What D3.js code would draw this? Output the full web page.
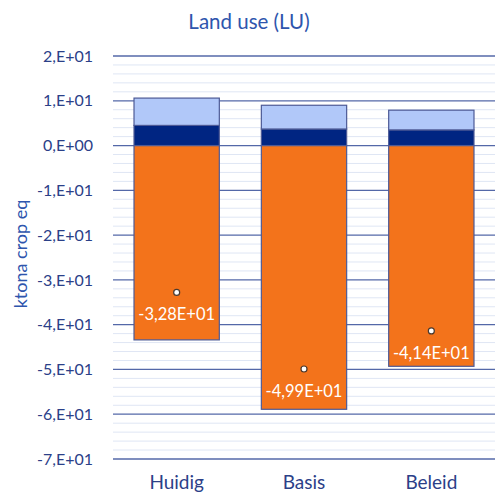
<!DOCTYPE html>
<html>
  <head>
    <meta charset="utf-8">
    <title>Land use (LU)</title>
    <script src="https://d3js.org/d3.v7.min.js"></script>
    <style>
      body { margin: 0; background: #fff; }
      text { font-family: Lato, "Open Sans", sans-serif; }
    </style>
  </head>
  <body>
    <div id="chart"></div>
    <script>
      // data
      var categories = ["Huidig", "Basis", "Beleid"];
      var orangeValues = [-43.4, -58.9, -49.3];
      var navyValues = [4.5, 3.7, 3.5];
      var lightValues = [6.1, 5.3, 4.4];
      var netValues = [-32.8, -49.9, -41.4];
      var netLabels = ["-3,28E+01", "-4,99E+01", "-4,14E+01"];
      var yTicks = [20, 10, 0, -10, -20, -30, -40, -50, -60, -70];
      var yTickLabels = ["2,E+01", "1,E+01", "0,E+00", "-1,E+01", "-2,E+01", "-3,E+01", "-4,E+01", "-5,E+01", "-6,E+01", "-7,E+01"];

      var W = 500, H = 502;
      var margin = {top: 56, right: 5, bottom: 43, left: 113},
          width = W - margin.left - margin.right,
          height = H - margin.top - margin.bottom;

      var svg = d3.select("#chart").append("svg")
        .attr("width", W)
        .attr("height", H);

      var g = svg.append("g")
        .attr("transform", "translate(" + margin.left + "," + margin.top + ")");

      var x = d3.scaleBand().domain(categories).range([0, width]).paddingInner(0.33).paddingOuter(0.165);
      var y = d3.scaleLinear().domain([-70, 20]).range([height, 0]);

      // minor gridlines every 2
      g.append("g").selectAll("line")
        .data(d3.range(-70, 20.01, 2).filter(function(v) { return v % 10 !== 0; }))
        .enter().append("line")
        .attr("x1", 0).attr("x2", width)
        .attr("y1", function(d) { return y(d); })
        .attr("y2", function(d) { return y(d); })
        .attr("stroke", "#dfe6f4")
        .attr("stroke-width", 1);

      // major gridlines
      g.append("g").selectAll("line")
        .data(yTicks)
        .enter().append("line")
        .attr("x1", 0).attr("x2", width)
        .attr("y1", function(d) { return y(d); })
        .attr("y2", function(d) { return y(d); })
        .attr("stroke", "#5468a8")
        .attr("stroke-width", 1.3);

      // y axis labels
      var yAxis = d3.axisLeft(y).tickValues(yTicks)
        .tickFormat(function(d, i) { return yTickLabels[i]; })
        .tickSize(0).tickPadding(20);
      g.append("g").call(yAxis)
        .call(function(a) { a.select(".domain").remove(); })
        .selectAll("text")
        .attr("fill", "#2b4088")
        .style("font-size", "16px");

      // x axis labels
      var xAxis = d3.axisBottom(x).tickSize(0).tickPadding(17);
      g.append("g").attr("transform", "translate(0," + height + ")").call(xAxis)
        .call(function(a) { a.select(".domain").remove(); })
        .selectAll("text")
        .attr("fill", "#2b4088")
        .style("font-size", "19px");

      var rows = categories.map(function(c, i) {
        return {cat: c, orange: orangeValues[i], navy: navyValues[i], light: lightValues[i], net: netValues[i], label: netLabels[i]};
      });

      var barStroke = "#4d5a96";

      // orange (negative)
      g.selectAll(".orange").data(rows).enter().append("rect")
        .attr("x", function(d) { return x(d.cat); })
        .attr("width", x.bandwidth())
        .attr("y", y(0))
        .attr("height", function(d) { return y(d.orange) - y(0); })
        .attr("fill", "#f3731b")
        .attr("stroke", barStroke).attr("stroke-width", 1.2);

      // navy
      g.selectAll(".navy").data(rows).enter().append("rect")
        .attr("x", function(d) { return x(d.cat); })
        .attr("width", x.bandwidth())
        .attr("y", function(d) { return y(d.navy); })
        .attr("height", function(d) { return y(0) - y(d.navy); })
        .attr("fill", "#002582")
        .attr("stroke", barStroke).attr("stroke-width", 1.2);

      // light blue
      g.selectAll(".light").data(rows).enter().append("rect")
        .attr("x", function(d) { return x(d.cat); })
        .attr("width", x.bandwidth())
        .attr("y", function(d) { return y(d.navy + d.light); })
        .attr("height", function(d) { return y(d.navy) - y(d.navy + d.light); })
        .attr("fill", "#b1c8f9")
        .attr("stroke", barStroke).attr("stroke-width", 1.2);

      // net dots
      g.selectAll(".dot").data(rows).enter().append("circle")
        .attr("cx", function(d) { return x(d.cat) + x.bandwidth() / 2; })
        .attr("cy", function(d) { return y(d.net); })
        .attr("r", 3)
        .attr("fill", "#fff")
        .attr("stroke", "#4a3a30")
        .attr("stroke-width", 1.2);

      g.selectAll(".netlabel").data(rows).enter().append("text")
        .attr("x", function(d) { return x(d.cat) + x.bandwidth() / 2; })
        .attr("y", function(d) { return y(d.net) + 28; })
        .attr("text-anchor", "middle")
        .attr("fill", "#fff")
        .style("font-size", "16.5px")
        .text(function(d) { return d.label; });

      // title
      svg.append("text")
        .attr("x", 249).attr("y", 29)
        .attr("text-anchor", "middle")
        .attr("fill", "#2e55ad")
        .style("font-size", "20.5px")
        .text("Land use (LU)");

      // y axis title
      svg.append("text")
        .attr("transform", "translate(27," + 254 + ") rotate(-90)")
        .attr("text-anchor", "middle")
        .attr("fill", "#2e55ad")
        .style("font-size", "18px")
        .text("ktona crop eq");
    </script>
  </body>
</html>
